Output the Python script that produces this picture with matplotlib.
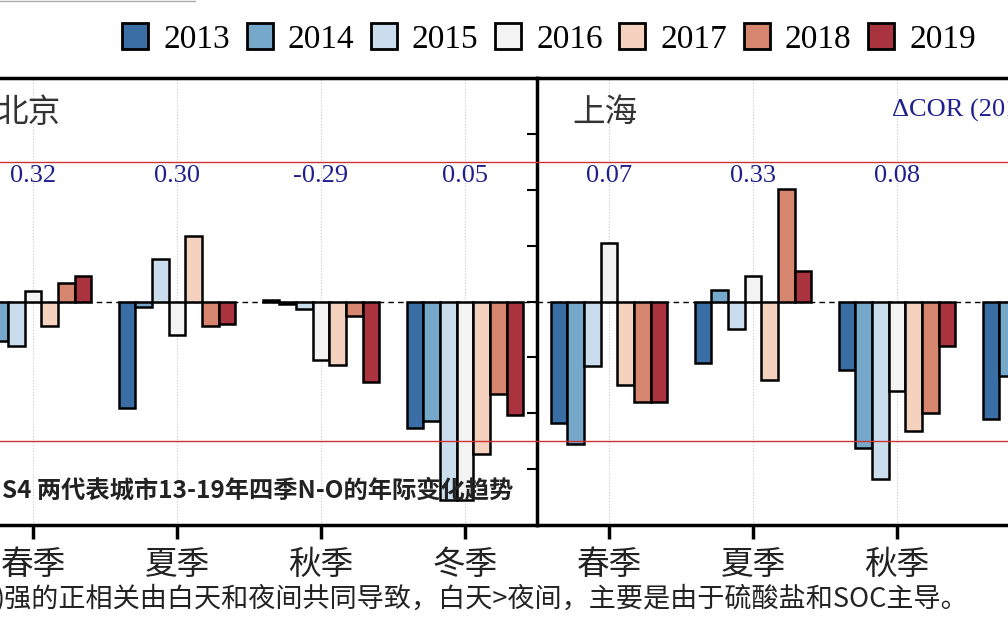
import matplotlib.pyplot as plt
import numpy as np
from matplotlib.patches import Patch
from matplotlib.lines import Line2D

plt.rcParams['font.family'] = ['Noto Sans CJK SC', 'DejaVu Sans']
serif = ['Liberation Serif', 'DejaVu Serif']

years = ['2013', '2014', '2015', '2016', '2017', '2018', '2019']
seasons = ['春季', '夏季', '秋季', '冬季']
colors = ['#3b6ea5', '#76a8cc', '#c9ddec', '#f3f3f3', '#f5d1bf', '#d6866f', '#a9343f']

# N-O interannual change: one row per season, one column per year
beijing = np.array([
    [-1.20, -0.70, -0.80, 0.18, -0.44, 0.33, 0.45],
    [-1.90, -0.10, 0.76, -0.60, 1.18, -0.43, -0.40],
    [0.03, -0.05, -0.13, -1.04, -1.14, -0.26, -1.44],
    [-2.26, -2.14, -3.55, -3.55, -2.73, -1.66, -2.04],
])
shanghai = np.array([
    [-2.17, -2.55, -1.15, 1.04, -1.50, -1.79, -1.79],
    [-1.10, 0.21, -0.49, 0.46, -1.40, 2.01, 0.54],
    [-1.22, -2.63, -3.18, -1.60, -2.31, -1.99, -0.80],
    [-2.10, -1.33, -1.00, -0.80, -1.20, -1.50, -1.00],
])
beijing_cor = ['0.32', '0.30', '-0.29', '0.05']
shanghai_cor = ['0.07', '0.33', '0.08', '0.12']

W, H = 1008, 630
fig = plt.figure(figsize=(W / 100, H / 100), dpi=100)
ax1 = fig.add_axes([-39 / W, 105 / H, 576 / W, 447 / H])
ax2 = fig.add_axes([537 / W, 105 / H, 576 / W, 447 / H])
ax2.set_facecolor('none')

bw = 0.116
x = np.arange(len(seasons))
for ax, data, cors in [(ax1, beijing, beijing_cor), (ax2, shanghai, shanghai_cor)]:
    for i, (yr, c) in enumerate(zip(years, colors)):
        ax.bar(x + (i - 3) * bw, data[:, i], bw, color=c, edgecolor='black',
               linewidth=1.8, zorder=3)
    ax.axhline(0, color='black', ls='--', lw=1, dashes=(4, 3), zorder=2)
    for yv in (2.5, -2.5):
        ax.axhline(yv, color='#cc3333', lw=1, zorder=4)
    for xi, txt in zip(x, cors):
        ax.text(xi, 2.25, txt, ha='center', va='center', color='#1f1f8f',
                fontsize=19, family=serif)
    ax.set_xlim(-0.5, 3.5)
    ax.set_ylim(-4, 4)
    ax.set_xticks(x)
    ax.set_xticklabels(seasons, fontsize=23.5, color='#222222')
    ax.tick_params(axis='x', direction='out', length=10, width=2.5, pad=7)
    ax.grid(axis='x', ls=':', color='#c8c8c8', lw=0.8, zorder=0)
    for s in ax.spines.values():
        s.set_linewidth(2.5)

ax1.yaxis.tick_right()
ax1.set_yticks(range(-3, 4))
ax1.tick_params(axis='y', direction='in', length=7, width=1.5, labelright=False)
ax2.set_yticks([])
ax2.spines['left'].set_visible(False)

fig.text(-4 / W, 1 - 113 / H, '北京', fontsize=23.5, color='#333333', va='center')
fig.text(572 / W, 1 - 113 / H, '上海', fontsize=23.5, color='#333333', va='center')
fig.text(892 / W, 1 - 110 / H, 'ΔCOR (2013-2019)', fontsize=19, color='#1f1f8f',
         va='center', family=serif)

handles = [Patch(facecolor=c, edgecolor='black', linewidth=2) for c in colors]
fig.legend(handles, years, loc='center', bbox_to_anchor=(549 / W, 1 - 39 / H), ncol=7,
           frameon=False, prop={'family': serif, 'size': 24}, handlelength=0.78,
           handleheight=0.78, handletextpad=0.45, columnspacing=0.5,
           borderaxespad=0, borderpad=0)

fig.text(2 / W, 1 - 490 / H, 'S4 两代表城市13-19年四季N-O的年际变化趋势', fontsize=17.5,
         fontweight='bold', color='#222222', va='center')
fig.text(-4 / W, 1 - 598 / H, ')强的正相关由白天和夜间共同导致，白天>夜间，主要是由于硫酸盐和SOC主导。',
         fontsize=19.5, color='#222222', va='center')

fig.add_artist(Line2D([0, 195 / W], [1 - 1 / H, 1 - 1 / H], color='#aaaaaa', lw=1))

fig.savefig('out.png', dpi=100)
